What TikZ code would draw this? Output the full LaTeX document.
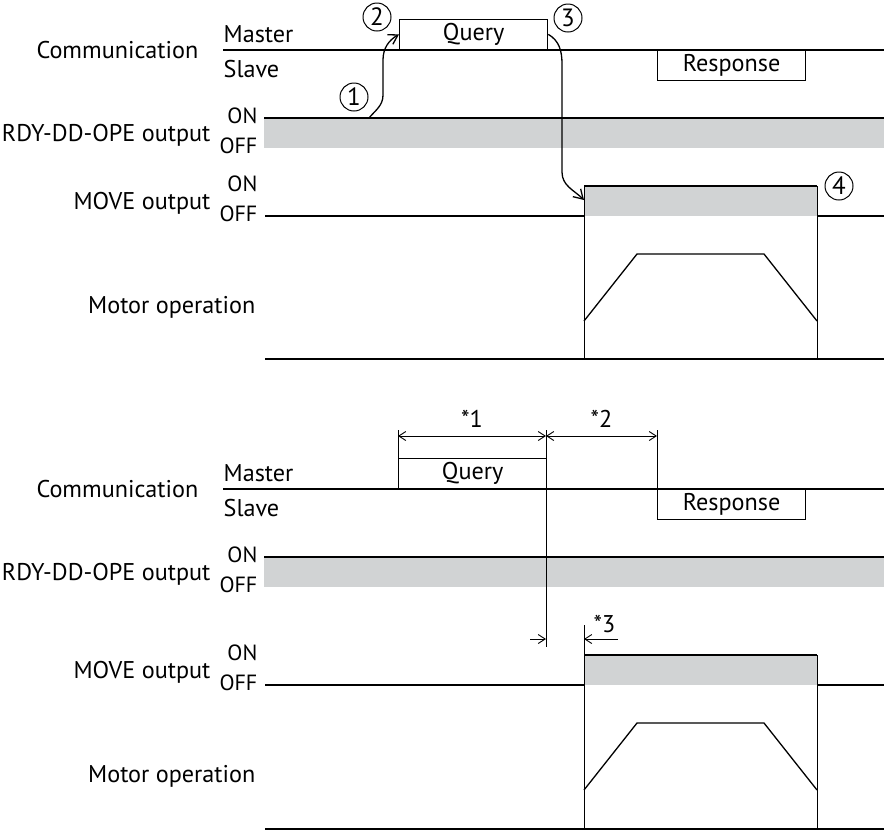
\documentclass[tikz,border=0pt]{standalone}
\usepackage{fontspec}
\setmainfont{PT Sans}
\usetikzlibrary{arrows.meta}
\definecolor{sigfill}{RGB}{209,211,212}

\begin{document}
\begin{tikzpicture}[x=0.5pt, y=-0.5pt, line width=0.65pt,
    every node/.style={font=\fontsize{12.1}{14}\selectfont, inner sep=0pt},
    lbl/.style={anchor=base east},
    lvl/.style={anchor=base east, font=\fontsize{11}{13}\selectfont},
    msg/.style={draw, rectangle, minimum width=74pt, minimum height=15pt},
    num/.style={draw, circle, minimum size=14pt, line width=0.5pt, font=\fontsize{12.5}{14}\selectfont},
    ext/.style={line width=0.45pt},
    dim/.style={line width=0.45pt, {Straight Barb[length=3.5pt,width=4.5pt]}-{Straight Barb[length=3.5pt,width=4.5pt]}},
    flow/.style={line width=0.65pt, -{Straight Barb[length=4.5pt,width=5.5pt]}}]
    \useasboundingbox (0,0) rectangle (884,832);

    % Upper chart: labels
    \node[lbl] (comm) at (199,58) {Communication};
    \node[anchor=base west] (mst) at (223,42) {Master};
    \node[anchor=base west] (slv) at (223,77) {Slave};
    \node[lbl] (rdy) at (211,141) {RDY-DD-OPE output};
    \node[lvl] (rdyon) at (258,123) {ON};
    \node[lvl] (rdyoff) at (258,153) {OFF};
    \node[lbl] (move) at (211,209) {MOVE output};
    \node[lvl] (moveon) at (258,191) {ON};
    \node[lvl] (moveoff) at (258,221) {OFF};
    \node[lbl] (motor) at (256,313) {Motor operation};

    % Upper chart: signals
    \draw (223,50) -- (884,50);
    \node[msg, anchor=south west] (query) at (399,50) {Query};
    \node[msg, anchor=north west] (resp) at (657,50) {Response};
    \fill[sigfill] (264,118) rectangle (884,148);
    \draw (264,118) -- (884,118);
    \fill[sigfill] (584,186) rectangle (817,216);
    \draw (265,216) -- (584,216) (584,186) -- (817,186) (817,216) -- (884,216);
    \draw[ext] (584,186) -- (584,359) (817,186) -- (817,359);
    \draw (584,321) -- (637,254) -- (764,254) -- (817,321);
    \draw (265,359) -- (884,359);

    % Upper chart: steps
    \node[num] (s1) at (354,97) {1};
    \node[num] (s2) at (377,17) {2};
    \node[num] (s3) at (568,18) {3};
    \node[num] (s4) at (839,186) {4};
    \coordinate (rdyup) at (369,118);
    \coordinate (moveup) at (584,200);
    \draw[flow] (rdyup) to[out=50,in=-90] (383,95) -- (383,60) to[out=90,in=210] (query.west);
    \draw[flow] (query.east) to[out=-30,in=90] (562,64) -- (562,172) to[out=-90,in=135] (moveup);

    % Lower chart: labels
    \node[lbl] (comm2) at (199,497) {Communication};
    \node[anchor=base west] (mst2) at (223,481) {Master};
    \node[anchor=base west] (slv2) at (223,516) {Slave};
    \node[lbl] (rdy2) at (211,580) {RDY-DD-OPE output};
    \node[lvl] (rdyon2) at (258,562) {ON};
    \node[lvl] (rdyoff2) at (258,592) {OFF};
    \node[lbl] (move2) at (211,678) {MOVE output};
    \node[lvl] (moveon2) at (258,660) {ON};
    \node[lvl] (moveoff2) at (258,690) {OFF};
    \node[lbl] (motor2) at (256,782) {Motor operation};

    % Lower chart: signals
    \draw (223,489) -- (884,489);
    \node[msg, anchor=south west] (query2) at (398,489) {Query};
    \node[msg, anchor=north west] (resp2) at (657,489) {Response};
    \fill[sigfill] (264,557) rectangle (884,587);
    \draw (264,557) -- (884,557);
    \fill[sigfill] (584,655) rectangle (817,685);
    \draw (265,685) -- (584,685) (584,655) -- (817,655) (817,685) -- (884,685);
    \draw[ext] (584,625) -- (584,829) (817,655) -- (817,829);
    \draw (584,790) -- (637,723) -- (764,723) -- (817,790);
    \draw (265,829) -- (884,829);

    % Lower chart: times
    \draw[ext] (398,430) -- (query2.north west);
    \draw[ext] (546,430) -- (546,647);
    \draw[ext] (657,430) -- (resp2.north west);
    \draw[dim] (398,436) -- node[above=4pt] (t1) {*1} (546,436);
    \draw[dim] (546,436) -- node[above=4pt] (t2) {*2} (657,436);
    \draw[ext, -{Straight Barb[length=3.5pt,width=4.5pt]}] (530,639) -- (546,639);
    \draw[ext, -{Straight Barb[length=3.5pt,width=4.5pt]}] (618,639) -- (584,639);
    \node[anchor=base west] (t3) at (593,632) {*3};
\end{tikzpicture}
\end{document}
